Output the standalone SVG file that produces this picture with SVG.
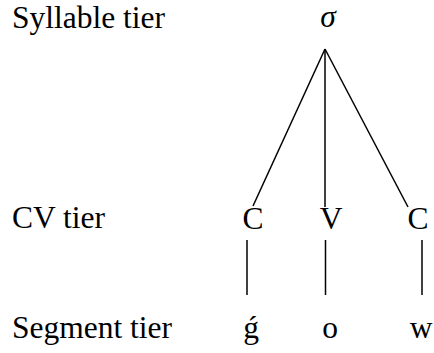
<svg xmlns="http://www.w3.org/2000/svg" width="434" height="353" viewBox="0 0 434 353">
<style>
text{font-family:"Liberation Serif","Times New Roman",serif;font-size:31.5px;fill:#000}
.c{text-anchor:middle}
line{stroke:#000;stroke-width:1.5}
</style>
<rect width="434" height="353" fill="#fff"/>
<g id="labels">
<text x="12" y="28">Syllable tier</text>
<text x="12" y="228">CV tier</text>
<text x="12" y="338">Segment tier</text>
</g>
<g id="sigma"><text class="c" x="328" y="27" font-style="italic">σ</text></g>
<g id="C1"><text class="c" x="253" y="229">C</text></g>
<g id="V"><text class="c" x="331" y="229">V</text></g>
<g id="C2"><text class="c" x="418" y="229">C</text></g>
<g id="g"><text class="c" x="251" y="338">ǵ</text></g>
<g id="o"><text class="c" x="330" y="338">o</text></g>
<g id="w"><text class="c" x="421" y="338">w</text></g>
<g id="connectors">
<line x1="325" y1="49" x2="253" y2="206"/>
<line x1="325" y1="49" x2="325" y2="207"/>
<line x1="325" y1="49" x2="408" y2="207"/>
<line x1="247" y1="240" x2="247" y2="295"/>
<line x1="325.5" y1="240" x2="325.5" y2="295"/>
<line x1="422" y1="240" x2="422" y2="295"/>
</g>
</svg>
